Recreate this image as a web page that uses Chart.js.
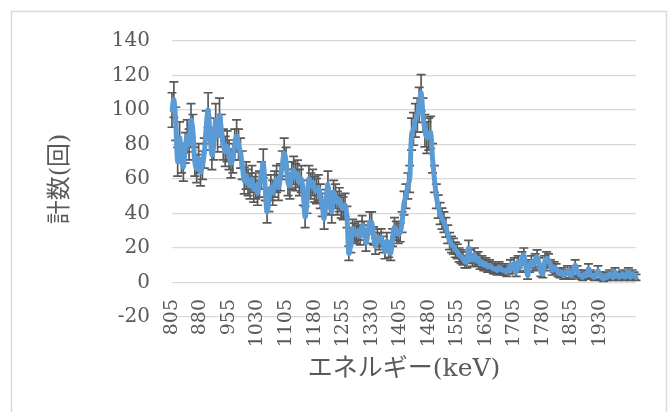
<!DOCTYPE html>
<html><head><meta charset="utf-8">
<script src="https://cdn.jsdelivr.net/npm/chart.js@4/dist/chart.umd.min.js"></script>
<style>html,body{margin:0;padding:0;background:#fff}</style>
</head><body>
<canvas id="c" width="672" height="412"></canvas>
<script>
// Energy categories (keV), 5 keV steps
const energies = [];
for (let e = 805; e <= 2025; e += 5) energies.push(e);

// Counts
const counts = [
  100,106,92,70,84,  72,67,78,85,80,  94,88,70,66,72,  64,68,75,90,100,
  86,74,80,94,85,  97,88,80,76,79,  74,69,72,80,85,  80,75,68,59,62,
  58,56,60,54,56,  52,57,62,69,55,  41,48,55,52,57,  60,55,61,68,75,
  70,58,56,62,65,  61,63,58,60,52,  38,47,60,56,58,  54,53,55,50,45,
  37,47,57,46,41,  52,50,46,48,44,  43,45,38,17,22,  31,29,28,30,27,
  33,30,23,28,35,  35,27,21,26,24,  26,22,18,24,19,  17,26,32,30,28,
  29,35,46,50,56,  60,86,89,94,97,  103,110,97,88,84,  86,87,72,60,50,
  44,40,37,35,32,  28,24,22,21,19,  18,16,15,14,12,  12,20,15,13,16,
  13,14,11,12,10,  11,9,10,9,8,  8,7,9,8,7,  7,6,8,10,8,
  11,6,12,9,14,  16,10,4,9,12,  10,13,15,11,6,  5,12,14,13,10,
  7,9,8,6,5,  6,4,5,7,5,  4,6,10,7,5,  4,3,5,4,8,
  5,4,3,4,7,  4,3,2,4,3,  5,4,3,6,4,  3,4,5,3,4,
  6,3,5,4,3
];

// Tick labels shown on the category axis
const tickLabels = ['805','880','955','1030','1105','1180','1255','1330','1405','1480','1555','1630','1705','1780','1855','1930'];

// Y axis
const yMin = -20, yMax = 140, yStep = 20;

const xTitle = 'エネルギー(keV)';
const yTitle = '計数(回)';

const frame = {
  id: 'frame',
  beforeDraw(chart) {
    const ctx = chart.ctx;
    ctx.save();
    ctx.fillStyle = '#fff';
    ctx.fillRect(0, 0, chart.width, chart.height);
    ctx.strokeStyle = '#D9D9D9';
    ctx.lineWidth = 1.5;
    ctx.strokeRect(11.5, 11.5, 655, 430);
    ctx.restore();
  }
};

const errorBars = {
  id: 'errorBars',
  beforeDatasetsDraw(chart) {
    const ctx = chart.ctx;
    const xs = chart.scales.x, ys = chart.scales.y;
    const area = chart.chartArea;
    ctx.save();
    ctx.beginPath();
    ctx.rect(area.left - 6, area.top - 2, area.right - area.left + 12, area.bottom - area.top + 4);
    ctx.clip();
    ctx.strokeStyle = '#595959';
    ctx.lineWidth = 1.7;
    const cap = 4.5;
    counts.forEach((v, i) => {
      const err = Math.sqrt(v);
      const x = xs.getPixelForValue(i);
      const y1 = ys.getPixelForValue(v + err);
      const y2 = ys.getPixelForValue(v - err);
      ctx.beginPath();
      ctx.moveTo(x, y1); ctx.lineTo(x, y2);
      ctx.moveTo(x - cap, y1); ctx.lineTo(x + cap, y1);
      ctx.moveTo(x - cap, y2); ctx.lineTo(x + cap, y2);
      ctx.stroke();
    });
    ctx.restore();
  }
};

new Chart(document.getElementById('c'), {
  type: 'line',
  data: {
    labels: energies.map(String),
    datasets: [{
      data: counts,
      borderColor: '#5B9BD5',
      borderWidth: 5,
      pointRadius: 0,
      tension: 0.4,
      fill: false,
      borderJoinStyle: 'round',
      borderCapStyle: 'round'
    }]
  },
  options: {
    responsive: false,
    animation: false,
    devicePixelRatio: 1,
    layout: { padding: { left: 46, top: 41, right: 36, bottom: 95 } },
    plugins: { legend: { display: false }, tooltip: { enabled: false } },
    scales: {
      x: {
        type: 'category',
        position: { y: yMin },
        grid: { display: false, drawTicks: false },
        border: { display: false },
        ticks: {
          autoSkip: false, minRotation: 90, maxRotation: 90, padding: -18,
          color: '#595959', font: { family: 'DejaVu Serif', size: 19 },
          callback: function (v, i) { const l = String(energies[i]); return tickLabels.includes(l) ? l : ''; }
        },
        title: { display: true, text: xTitle, color: '#595959',
          font: { family: "'DejaVu Serif','Noto Sans CJK JP'", size: 25 }, padding: { top: 25, bottom: 4 } }
      },
      y: {
        min: yMin, max: yMax,
        ticks: { stepSize: yStep, padding: 22, color: '#595959', font: { family: 'DejaVu Serif', size: 20 } },
        grid: { color: '#D9D9D9', lineWidth: 1.3, drawTicks: false },
        border: { display: false },
        title: { display: true, text: yTitle, color: '#595959',
          font: { family: "'DejaVu Serif','Noto Sans CJK JP'", size: 24 }, padding: { top: 0, bottom: 15 } }
      }
    }
  },
  plugins: [frame, errorBars]
});
</script>
</body></html>
